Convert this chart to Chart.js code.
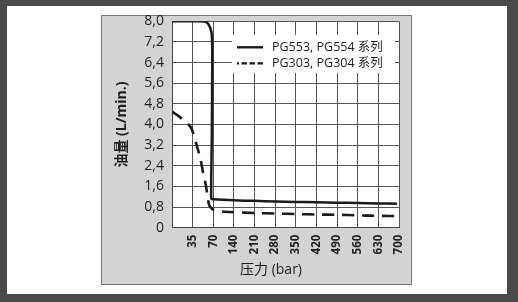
<!DOCTYPE html>
<html>
<head>
<meta charset="utf-8">
<script src="https://cdn.jsdelivr.net/npm/chart.js@4.4.1/dist/chart.umd.min.js"></script>
<style>
  html, body { margin: 0; padding: 0; }
  body { width: 518px; height: 302px; background: #4a4a4a; position: relative; overflow: hidden; }
  #sheet { position: absolute; left: 7px; top: 6px; width: 500px; height: 288px; background: #fff; }
  #panel { position: absolute; left: 101px; top: 15px; width: 309px; height: 268px; background: #d3d3d3; border: 1px solid #777; }
  #chart { position: absolute; left: 0; top: 0; }
</style>
</head>
<body>
<div id="sheet"></div>
<div id="panel"></div>
<canvas id="chart" width="518" height="302"></canvas>
<script>

// tick labels of the pressure axis, one per grid column
const xTickLabels = ['', '35', '70', '140', '210', '280', '350', '420', '490', '560', '630', '700'];

// PG553, PG554 series (bar, L/min)
const solidPressure = [0, 47, 59, 64.5, 67.4, 68.3, 67.5, 66.5, 70, 140, 210, 280, 350, 420, 490, 560, 630, 693];
const solidFlow     = [8.0, 8.0, 7.96, 7.77, 7.5, 6.6, 3.5, 1.12, 1.1, 1.06, 1.04, 1.02, 1.0, 0.99, 0.97, 0.96, 0.94, 0.93];

// PG303, PG304 series (bar, L/min)
const dashPressure = [0, 10, 19, 28, 33, 38, 43, 48, 53, 57.8, 61, 63, 67, 70, 100, 140, 210, 280, 350, 420, 490, 560, 630, 700];
const dashFlow     = [4.5, 4.35, 4.17, 4.0, 3.85, 3.5, 3.1, 2.7, 2.1, 1.6, 1.1, 0.88, 0.75, 0.7, 0.63, 0.6, 0.57, 0.55, 0.53, 0.51, 0.5, 0.48, 0.46, 0.45];

const seriesNames = ['PG553, PG554 系列', 'PG303, PG304 系列'];
const yTitle = '油量 (L/min.)';
const xTitle = '压力 (bar)';

// the axis is not linear: 0-70 bar uses two columns, after that 70 bar per column
function pressure_to_axis(p) {
	return p <= 70 ? p / 35 : 2 + (p - 70) / 70;
}

function make_points(pressures, flows) {
	const pts = [];
	for (let i = 0; i < pressures.length; i++) {
		pts.push({ x: pressure_to_axis(pressures[i]), y: flows[i] });
	}
	return pts;
}

Chart.defaults.font.family = "'Open Sans', 'Noto Sans CJK SC', sans-serif";
Chart.defaults.color = '#1e1e1e';

// white plot background under the grid
const plotBackground = {
	id: 'plotBackground',
	beforeDraw(chart) {
		const a = chart.chartArea;
		chart.ctx.save();
		chart.ctx.fillStyle = '#fff';
		chart.ctx.fillRect(a.left, a.top, a.right - a.left, a.bottom - a.top);
		chart.ctx.restore();
	}
};

// legend in a white box inside the plot
const boxLegend = {
	id: 'boxLegend',
	beforeDatasetsDraw(chart) {
		const ctx = chart.ctx;
		const area = chart.chartArea;
		const x0 = area.left + 60;
		const y0 = area.top + 13.7;
		ctx.save();
		ctx.fillStyle = '#fff';
		ctx.fillRect(x0, y0, area.right - 4 - x0, 38);
		ctx.font = "12.5px 'Open Sans', 'Noto Sans CJK SC', sans-serif";
		ctx.textBaseline = 'middle';
		chart.data.datasets.forEach(function (ds, i) {
			const y = y0 + 12.3 + i * 16;
			ctx.beginPath();
			ctx.setLineDash(ds.legendDash);
			ctx.lineWidth = ds.legendWidth;
			ctx.strokeStyle = ds.borderColor;
			ctx.moveTo(x0 + 31, y);
			ctx.lineTo(x0 + 5, y);
			ctx.stroke();
			ctx.setLineDash([]);
			ctx.fillStyle = '#1e1e1e';
			ctx.fillText(ds.label, x0 + 40, y + 0.5);
		});
		ctx.restore();
	}
};

// x title sits a bit left of the plot centre in the original
const xAxisTitle = {
	id: 'xAxisTitle',
	afterDraw(chart) {
		const ctx = chart.ctx;
		ctx.save();
		ctx.font = "14px 'Open Sans', 'Noto Sans CJK SC', sans-serif";
		ctx.fillStyle = '#1e1e1e';
		ctx.textAlign = 'center';
		ctx.textBaseline = 'middle';
		ctx.fillText(xTitle, 271, 270);
		ctx.restore();
	}
};

new Chart(document.getElementById('chart'), {
	type: 'line',
	data: {
		datasets: [
			{
				label: seriesNames[0],
				data: make_points(solidPressure, solidFlow),
				borderColor: '#1a1a1a',
				borderWidth: 2.5,
				pointRadius: 0,
				tension: 0.2,
				legendDash: [],
				legendWidth: 2.4
			},
			{
				label: seriesNames[1],
				data: make_points(dashPressure, dashFlow),
				borderColor: '#1a1a1a',
				borderWidth: 2.6,
				borderDash: [12, 8],
				pointRadius: 0,
				tension: 0.2,
				legendDash: [5.5, 2.5],
				legendWidth: 2.2
			}
		]
	},
	options: {
		responsive: false,
		animation: false,
		layout: {
			padding: { left: 100, top: 21.3, right: 119, bottom: 0 }
		},
		plugins: {
			legend: { display: false },
			tooltip: { enabled: false }
		},
		scales: {
			x: {
				type: 'linear',
				min: 0,
				max: 11,
				afterFit: function (scale) { scale.height = 74.3; },
				grid: { color: '#555', lineWidth: 1, drawTicks: false },
				border: { color: '#444', width: 1 },
				ticks: {
					stepSize: 1,
					autoSkip: false,
					minRotation: 90,
					maxRotation: 90,
					padding: 7,
					font: { size: 11.5, weight: 'bold' },
					callback: function (value) { return xTickLabels[value]; }
				}
			},
			y: {
				min: 0,
				max: 8,
				afterFit: function (scale) { scale.width = 72; },
				grid: { color: '#555', lineWidth: 1, drawTicks: false },
				border: { color: '#444', width: 1 },
				ticks: {
					stepSize: 0.8,
					padding: 8,
					font: { size: 14 },
					callback: function (value) {
						return value === 0 ? '0' : value.toFixed(1).replace('.', ',');
					}
				},
				title: {
					display: true,
					text: yTitle,
					font: { size: 14, weight: 'bold' },
					padding: { top: 13.6, bottom: 0 }
				}
			}
		}
	},
	plugins: [plotBackground, boxLegend, xAxisTitle]
});
</script>
</body>
</html>
